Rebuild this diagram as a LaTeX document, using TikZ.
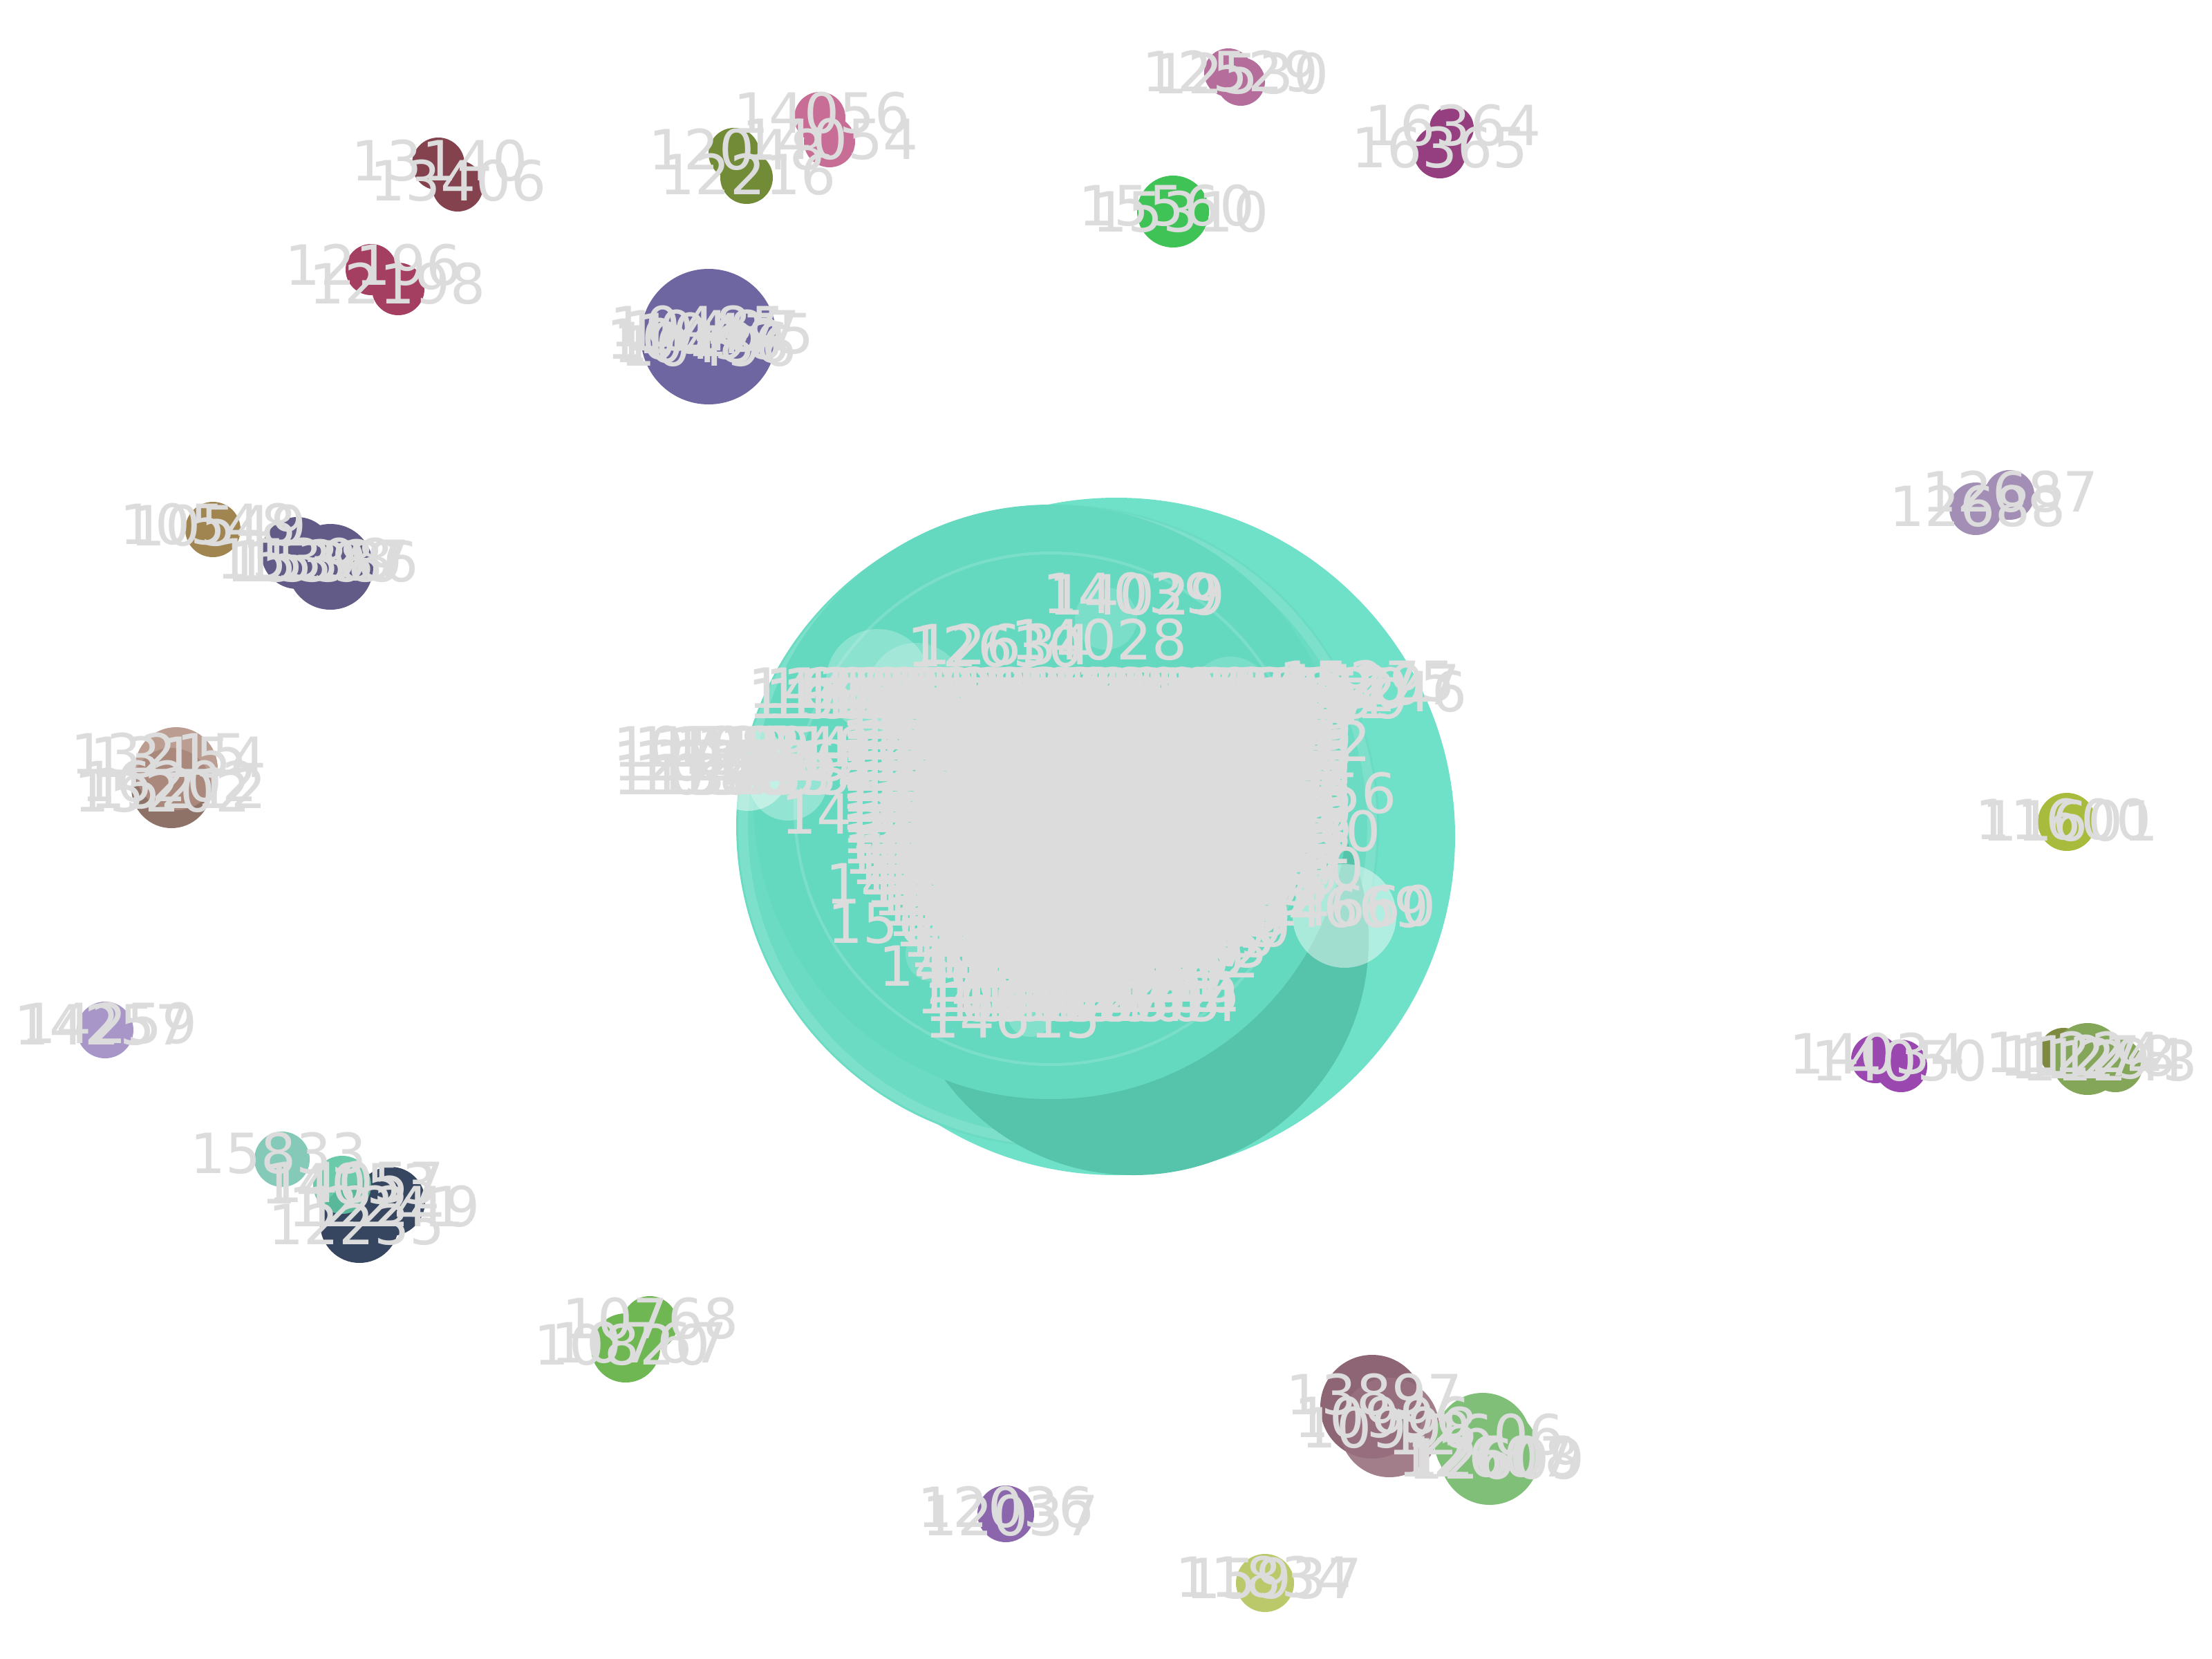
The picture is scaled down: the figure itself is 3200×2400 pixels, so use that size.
\documentclass[tikz,border=0pt]{standalone}
\usepackage{fontspec}
\setmainfont{DejaVu Sans}
\definecolor{labelgray}{HTML}{DCDCDC}
\definecolor{tealB}{HTML}{6EE1C8}
\definecolor{tealA}{HTML}{6BDCC3}
\definecolor{tealDark}{HTML}{56C4AA}
\definecolor{tealMain}{HTML}{65D9BF}
\definecolor{cA}{HTML}{84424F}
\definecolor{cB}{HTML}{A53F62}
\definecolor{cC}{HTML}{728B37}
\definecolor{cD}{HTML}{C86D95}
\definecolor{cE}{HTML}{6E66A1}
\definecolor{cF}{HTML}{B56E9B}
\definecolor{cG}{HTML}{963F80}
\definecolor{cH}{HTML}{3FC256}
\definecolor{cI}{HTML}{A38FB5}
\definecolor{cJ}{HTML}{A9BB3C}
\definecolor{cK}{HTML}{9A48B0}
\definecolor{cL}{HTML}{7E8A40}
\definecolor{cM}{HTML}{84A659}
\definecolor{cN}{HTML}{8E6575}
\definecolor{cNb}{HTML}{98707F}
\definecolor{cO}{HTML}{7FBF78}
\definecolor{cP}{HTML}{BCC96B}
\definecolor{cQ}{HTML}{8B66AC}
\definecolor{cR}{HTML}{6FB752}
\definecolor{cS}{HTML}{85C9B9}
\definecolor{cT}{HTML}{5CC5A0}
\definecolor{cU}{HTML}{364660}
\definecolor{cV}{HTML}{A996C8}
\definecolor{cW}{HTML}{B08C80}
\definecolor{cWb}{HTML}{8E7268}
\definecolor{cX}{HTML}{A08550}
\definecolor{cY}{HTML}{625A87}
\newcounter{lc}
\newcommand\lab[3]{\stepcounter{lc}\node[lbl] (L\arabic{lc}) at (#1,#2) {#3};}
\newcommand\bub[4]{\fill[#4] (#1,#2) circle (#3);}
\tikzset{lbl/.style={text=labelgray, font=\fontsize{22.8}{27}\selectfont, inner sep=0pt}}
\begin{document}
\begin{tikzpicture}[x=0.01cm,y=-0.01cm]
\fill[white] (0,0) rectangle (3200,2400);
\useasboundingbox (0,0) rectangle (3200,2400);
% central cluster
\bub{1615}{1210}{490}{tealB}
\bub{1530}{1195}{465}{tealA}
\draw[white,opacity=.12,line width=4pt] (1530,1195) circle (455);
\bub{1640}{1360}{340}{tealDark}
\bub{1520}{1160}{430}{tealMain}
\bub{1270}{985}{75}{white,fill opacity=.25}
\bub{1325}{1000}{70}{white,fill opacity=.2}
\bub{1082}{1112}{61}{white,fill opacity=.45}
\bub{1140}{1130}{57}{white,fill opacity=.3}
\bub{1945}{1325}{75}{white,fill opacity=.45}
\bub{1600}{895}{45}{white,fill opacity=.15}
\bub{1780}{1010}{60}{white,fill opacity=.15}
\bub{1490}{1468}{32}{white,fill opacity=.2}
\bub{1310}{1240}{45}{white,fill opacity=.15}
\bub{1350}{1380}{40}{white,fill opacity=.15}
\draw[white,opacity=.15,line width=1.2pt] (1520,1170) circle (370);
% peripheral circles
\bub{634}{237}{38}{cA}
\bub{662}{269}{37}{cA}
\bub{537}{390}{37}{cB}
\bub{576}{418}{38}{cB}
\bub{1062}{222}{37}{cC}
\bub{1080}{257}{38}{cC}
\bub{1186}{170}{37}{cD}
\bub{1200}{205}{37}{cD}
\bub{1025}{487}{98}{cE}
\bub{1777}{105}{35}{cF}
\bub{1795}{118}{35}{cF}
\bub{2100}{185}{32}{cG}
\bub{2083}{220}{38}{cG}
\bub{1697}{306}{52}{cH}
\bub{2858}{736}{38}{cI}
\bub{2907}{716}{36}{cI}
\bub{2990}{1189}{42}{cJ}
\bub{2713}{1532}{35}{cK}
\bub{2750}{1542}{38}{cK}
\bub{2985}{1522}{35}{cL}
\bub{3020}{1532}{52}{cM}
\bub{3060}{1540}{40}{cM}
\bub{1985}{2035}{75}{cN}
\bub{2010}{2065}{72}{cNb,fill opacity=.9}
\bub{2145}{2085}{70}{cO}
\bub{2155}{2105}{72}{cO}
\bub{1830}{2290}{42}{cP}
\bub{1455}{2190}{41}{cQ}
\bub{905}{1950}{50}{cR}
\bub{940}{1915}{40}{cR}
\bub{408}{1677}{40}{cS}
\bub{520}{1770}{57}{cU}
\bub{565}{1738}{50}{cU}
\bub{495}{1714}{42}{cT,fill opacity=.9}
\bub{152}{1490}{41}{cV}
\bub{248}{1140}{58}{cWb}
\bub{255}{1112}{60}{cW,fill opacity=.85}
\bub{308}{766}{40}{cX}
\bub{430}{800}{52}{cY}
\bub{478}{820}{62}{cY}
% peripheral labels
\lab{636}{232}{13140}
\lab{663}{261}{13406}
\lab{540}{383}{12196}
\lab{575}{410}{12198}
\lab{1066}{216}{12048}
\lab{1082}{252}{12216}
\lab{1189}{163}{14056}
\lab{1201}{201}{14054}
\lab{1010}{472}{10485}
\lab{1030}{478}{10487}
\lab{1050}{482}{10475}
\lab{1015}{495}{10486}
\lab{1025}{500}{10496}
\lab{1005}{490}{10498}
\lab{1780}{103}{12529}
\lab{1795}{106}{12530}
\lab{2102}{181}{16364}
\lab{2083}{213}{16365}
\lab{1688}{297}{15560}
\lab{1708}{306}{15310}
\lab{2908}{711}{12687}
\lab{2861}{732}{12688}
\lab{2985}{1185}{11600}
\lab{2995}{1187}{11601}
\lab{2716}{1524}{14034}
\lab{2748}{1534}{14050}
\lab{3000}{1522}{11224}
\lab{3020}{1527}{11278}
\lab{3035}{1531}{11294}
\lab{3052}{1534}{11243}
\lab{1988}{2017}{13897}
\lab{2000}{2050}{10996}
\lab{2010}{2065}{10998}
\lab{2135}{2075}{12606}
\lab{2150}{2107}{12607}
\lab{2158}{2107}{12608}
\lab{2165}{2110}{12609}
\lab{1828}{2281}{11834}
\lab{1843}{2283}{15937}
\lab{1455}{2180}{12036}
\lab{1462}{2192}{12037}
\lab{941}{1907}{10768}
\lab{900}{1945}{10820}
\lab{925}{1942}{10767}
\lab{403}{1668}{15833}
\lab{505}{1712}{14053}
\lab{515}{1710}{14057}
\lab{545}{1745}{12241}
\lab{567}{1745}{12249}
\lab{516}{1771}{12235}
\lab{148}{1482}{14257}
\lab{158}{1480}{14259}
\lab{230}{1090}{13215}
\lab{258}{1095}{13154}
\lab{235}{1145}{15202}
\lab{258}{1140}{15212}
\lab{245}{1130}{16202}
\lab{301}{758}{10548}
\lab{316}{760}{10549}
\lab{441}{808}{15398}
\lab{455}{812}{15399}
\lab{465}{810}{15387}
\lab{478}{812}{15386}
% central labels
\pgfmathsetseed{7}
\lab{1636}{858}{14039}
\lab{1645}{860}{14029}
\lab{1440}{935}{12630}
\lab{1452}{932}{12634}
\lab{1590}{925}{14028}
\foreach \yy in {995,1010} {\foreach \xx in {1210,1235,...,1930} {\pgfmathrandominteger{\rr}{10000}{16999}\node[lbl] (t\xx-\yy) at (\xx,\yy) {\rr};}}
\lab{1985}{990}{15297}
\lab{1995}{1000}{15246}
\lab{1978}{985}{15275}
\foreach \yy in {1080,1100,1120} {\foreach \xx in {1015,1045,...,1135} {\pgfmathrandominteger{\rr}{10000}{16999}\node[lbl] (l\xx-\yy) at (\xx,\yy) {\rr};}}
\lab{1840}{1015}{14582}
\lab{1856}{1072}{14202}
\lab{1893}{1147}{15356}
\lab{1870}{1202}{13830}
\lab{1846}{1255}{14520}
\lab{1940}{1312}{14669}
\lab{1950}{1310}{14660}
\lab{1740}{1340}{13830}
\lab{1258}{1178}{14517}
\lab{1322}{1278}{14478}
\lab{1325}{1335}{15603}
\lab{1399}{1397}{14822}
\lab{1453}{1437}{14242}
\lab{1465}{1472}{14615}
\foreach \yy in {1025,1040,...,1405} {
  \pgfmathtruncatemacro\xa{1345+max(0,\yy-1230)*0.7}
  \pgfmathtruncatemacro\xc{\xa+22}
  \pgfmathtruncatemacro\xb{1830-max(0,\yy-1250)*1.0}
  \foreach \xx in {\xa,\xc,...,\xb} {\pgfmathrandominteger{\rr}{10000}{16999}\node[lbl] (m\xx-\yy) at (\xx,\yy) {\rr};}}
\foreach \yy in {1420,1435,1448} {\foreach \xx in {1465,1490,...,1675} {\pgfmathrandominteger{\rr}{10000}{16999}\node[lbl] (b\xx-\yy) at (\xx,\yy) {\rr};}}
\end{tikzpicture}
\end{document}
